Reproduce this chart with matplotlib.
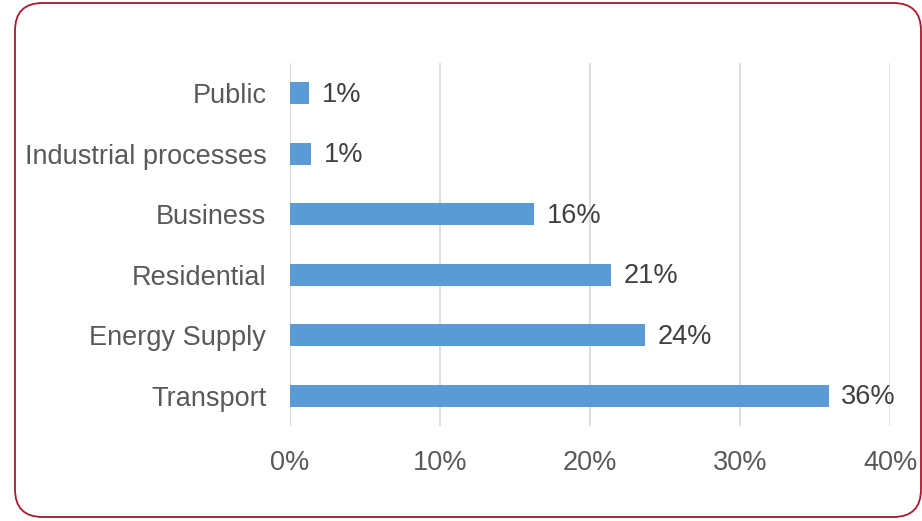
import matplotlib.pyplot as plt
from matplotlib.patches import FancyBboxPatch

plt.rcParams['font.family'] = ['Liberation Sans', 'DejaVu Sans']

sectors = ['Public', 'Industrial processes', 'Business', 'Residential', 'Energy Supply', 'Transport']
shares = [1.3, 1.4, 16.3, 21.4, 23.7, 35.9]
xticks = [0, 10, 20, 30, 40]

fig = plt.figure(figsize=(9.22, 5.21), dpi=100)
ax = fig.add_axes([0.3145, 0.1823, 0.6508, 0.6967])

ypos = list(range(len(sectors)))[::-1]
ax.barh(ypos, shares, height=0.37, color='#5B9BD5', zorder=3)

for y, v in zip(ypos, shares):
    ax.annotate(f'{v:.0f}%', (v, y), xytext=(9, -1), textcoords='offset points',
                va='center', ha='left', fontsize=19.5, color='#404040')

ax.set_xlim(0, 40)
ax.set_ylim(-0.5, len(sectors) - 0.5)
ax.set_yticks(ypos)
ax.set_yticklabels(sectors)
ax.set_xticks(xticks)
ax.set_xticklabels([f'{t}%' for t in xticks])
ax.tick_params(axis='y', length=0, pad=17, labelsize=19.5, labelcolor='#595959')
ax.tick_params(axis='x', length=0, pad=17, labelsize=19.5, labelcolor='#595959')
ax.grid(axis='x', color='#D9D9D9', linewidth=1.2, zorder=0)
for s in ax.spines.values():
    s.set_visible(False)
ax.axvline(0, color='#D9D9D9', linewidth=1.2, zorder=1)

# rounded frame around the whole figure
frame = FancyBboxPatch((15 / 922, 4 / 521), 906 / 922, 514 / 521,
                       boxstyle='round,pad=0,rounding_size=0.03',
                       transform=fig.transFigure, fill=False,
                       edgecolor='#A6192E', linewidth=1.3, mutation_aspect=922 / 521)
fig.patches.append(frame)

plt.savefig('out.png', dpi=100)
